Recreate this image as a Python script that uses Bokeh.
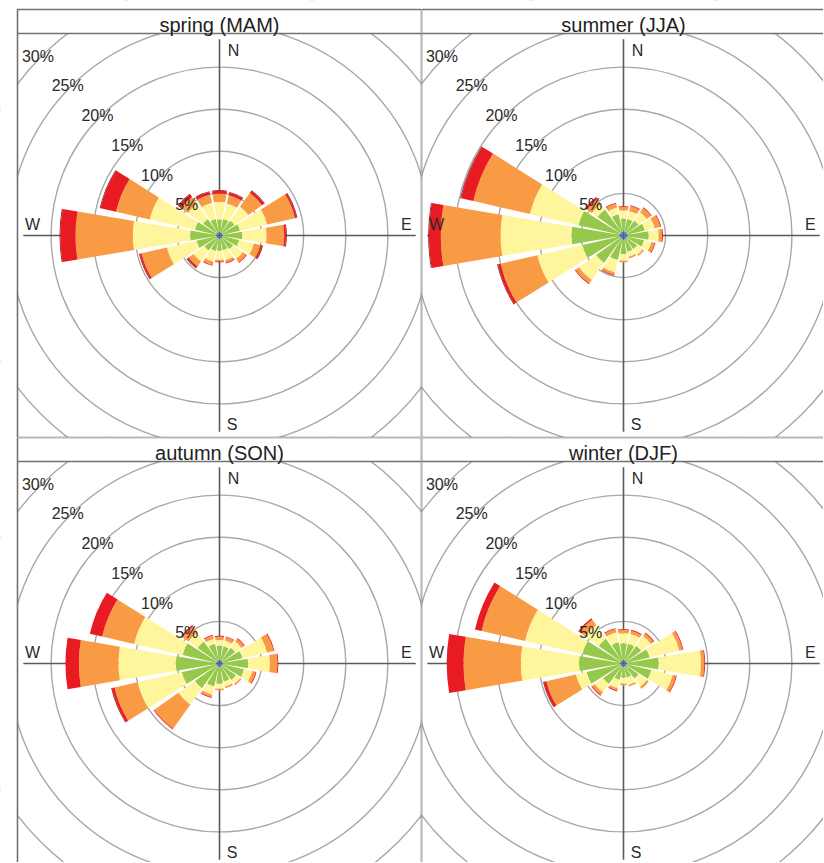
import numpy as np
from bokeh.plotting import figure
from bokeh.layouts import gridplot
from bokeh.models import Range1d, ColumnDataSource
from bokeh.embed import file_html
from bokeh.resources import INLINE
from bokeh.core.properties import value

# ---------------- data ----------------
directions = ["N", "NNE", "NE", "ENE", "E", "ESE", "SE", "SSE",
              "S", "SSW", "SW", "WSW", "W", "WNW", "NW", "NNW"]
dir_deg = [0, 22.5, 45, 67.5, 90, 112.5, 135, 157.5,
           180, 202.5, 225, 247.5, 270, 292.5, 315, 337.5]
speed_bins = ["bin 1", "bin 2", "bin 3", "bin 4", "bin 5", "bin 6"]
bin_colours = ["#3d6fb2", "#96c94b", "#fff59c", "#f99b45", "#e81b22", "#9e1a1a"]
season_titles = ["spring (MAM)", "summer (JJA)", "autumn (SON)", "winter (DJF)"]
ring_values = [5, 10, 15, 20, 25, 30]
ring_labels = ["5%", "10%", "15%", "20%", "25%", "30%"]
compass_labels = ["N", "E", "S", "W"]

# frequencies (%) per speed bin, 16 directions each
spring_b1 = [0.4] * 16
spring_b2 = [1.5, 1.6, 1.8, 2.1, 2.3, 2.0, 1.6, 1.4, 1.4, 1.5, 1.8, 2.4, 3.1, 2.6, 2.0, 1.6]
spring_b3 = [2.1, 1.9, 2.0, 3.3, 2.9, 1.8, 1.4, 1.2, 1.1, 1.3, 1.6, 3.6, 6.8, 5.5, 2.2, 2.0]
spring_b4 = [1.0, 1.0, 2.0, 3.4, 2.1, 0.8, 0.5, 0.3, 0.2, 0.4, 0.7, 3.1, 6.8, 4.1, 1.0, 1.0]
spring_b5 = [0.3, 0.3, 0.3, 0.2, 0.2, 0.2, 0.1, 0.1, 0.1, 0.1, 0.2, 0.2, 1.8, 1.9, 0.4, 0.3]
spring_b6 = [0.1, 0.1, 0.1, 0.1, 0.1, 0.1, 0.0, 0.0, 0.0, 0.0, 0.1, 0.1, 0.1, 0.1, 0.1, 0.1]

summer_b1 = [0.5] * 16
summer_b2 = [1.5, 1.5, 1.7, 2.1, 2.5, 2.0, 1.5, 1.5, 1.7, 2.5, 3.5, 4.5, 5.7, 5.0, 3.3, 2.1]
summer_b3 = [1.0, 1.0, 1.2, 1.2, 1.2, 0.9, 0.8, 0.6, 0.8, 1.5, 2.5, 5.5, 8.4, 5.9, 0.8, 0.8]
summer_b4 = [0.4, 0.6, 0.6, 0.7, 0.4, 0.4, 0.2, 0.2, 0.2, 0.3, 0.5, 4.5, 7.1, 6.9, 0.7, 0.5]
summer_b5 = [0.1, 0.1, 0.1, 0.1, 0.1, 0.1, 0.0, 0.0, 0.0, 0.1, 0.1, 0.3, 1.4, 1.5, 0.2, 0.1]
summer_b6 = [0.0, 0.0, 0.0, 0.0, 0.0, 0.0, 0.0, 0.0, 0.0, 0.0, 0.0, 0.1, 0.1, 0.1, 0.1, 0.0]

autumn_b1 = [0.4] * 16
autumn_b2 = [1.7, 1.7, 1.9, 2.4, 3.0, 2.6, 2.0, 1.8, 2.0, 2.4, 3.2, 4.2, 4.8, 4.1, 2.8, 2.0]
autumn_b3 = [0.7, 0.7, 0.9, 3.0, 2.6, 1.0, 0.6, 0.6, 0.6, 1.0, 2.4, 5.4, 6.8, 5.9, 1.3, 0.6]
autumn_b4 = [0.4, 0.4, 0.4, 0.8, 0.9, 0.4, 0.2, 0.2, 0.2, 0.3, 3.5, 2.8, 4.7, 3.9, 0.9, 0.4]
autumn_b5 = [0.1, 0.1, 0.1, 0.1, 0.1, 0.1, 0.0, 0.0, 0.0, 0.1, 0.1, 0.3, 1.6, 1.5, 0.2, 0.1]
autumn_b6 = [0.0, 0.0, 0.0, 0.0, 0.0, 0.0, 0.0, 0.0, 0.0, 0.0, 0.0, 0.1, 0.0, 0.0, 0.0, 0.0]

winter_b1 = [0.4] * 16
winter_b2 = [2.0, 2.0, 2.2, 2.8, 3.8, 3.0, 1.8, 1.3, 1.3, 1.6, 2.6, 4.1, 4.9, 4.6, 3.2, 2.2]
winter_b3 = [1.2, 1.2, 1.4, 3.6, 5.0, 2.6, 1.2, 0.9, 0.7, 1.0, 1.2, 1.3, 6.9, 7.0, 2.0, 1.2]
winter_b4 = [0.4, 0.4, 0.4, 0.4, 0.4, 0.4, 0.3, 0.2, 0.2, 0.3, 0.4, 3.6, 6.8, 5.3, 0.8, 0.4]
winter_b5 = [0.1, 0.1, 0.1, 0.1, 0.1, 0.1, 0.0, 0.0, 0.0, 0.1, 0.1, 0.3, 2.0, 0.8, 0.2, 0.1]
winter_b6 = [0.0, 0.0, 0.0, 0.0, 0.0, 0.0, 0.0, 0.0, 0.0, 0.0, 0.0, 0.1, 0.0, 0.0, 0.0, 0.0]

seasons = [
    [spring_b1, spring_b2, spring_b3, spring_b4, spring_b5, spring_b6],
    [summer_b1, summer_b2, summer_b3, summer_b4, summer_b5, summer_b6],
    [autumn_b1, autumn_b2, autumn_b3, autumn_b4, autumn_b5, autumn_b6],
    [winter_b1, winter_b2, winter_b3, winter_b4, winter_b5, winter_b6],
]

# ---------------- layout ----------------
S = 8.42            # pixels per 1 %
H = 202 / S         # half panel size (data units)
STRIP = 24 / S      # strip height
HALF_W = 9.6        # half wedge width in degrees
FONT = value("Liberation Sans")
GRID_COL = "#a8a8a8"
BORDER_COL = "#727272"

# (fig width, fig height, centre x px from left, centre y px from top, left margin px)
specs = [
    (421, 437, 219, 235, 17),
    (402, 437, 202, 235, 0),
    (421, 425, 219, 226, 17),
    (402, 425, 202, 226, 0),
]


def make_panel(title, bins, spec):
    w, h, cx, cy, lm = spec
    x0, x1 = -cx / S, (w - cx) / S
    y0, y1 = -(h - cy) / S, cy / S
    p = figure(width=w, height=h, x_range=Range1d(x0, x1), y_range=Range1d(y0, y1),
               output_backend="svg", toolbar_location=None, min_border=0,
               x_axis_type=None, y_axis_type=None)
    p.grid.visible = False
    p.outline_line_color = None
    p.background_fill_color = "white"
    p.border_fill_color = "white"

    # grid rings
    p.circle(x=[0] * len(ring_values), y=[0] * len(ring_values), radius=ring_values,
             fill_color=None, line_color=GRID_COL, line_width=1.4)
    # axis cross
    ext = 23.3
    p.segment(x0=[-ext, 0], y0=[0, -ext], x1=[ext, 0], y1=[0, ext],
              line_color="#5a5a5a", line_width=1.6)

    # wedges
    ang = np.radians(90 - np.array(dir_deg))
    hw = np.radians(HALF_W)
    cum = np.zeros(len(dir_deg))
    for k, vals in enumerate(bins):
        inner = cum.copy()
        cum = cum + np.array(vals)
        src = ColumnDataSource(dict(x=np.zeros(len(dir_deg)), y=np.zeros(len(dir_deg)),
                                    inner=inner, outer=cum.copy(),
                                    start=ang - hw, end=ang + hw))
        p.annular_wedge(x="x", y="y", inner_radius="inner", outer_radius="outer",
                        start_angle="start", end_angle="end", source=src,
                        fill_color=bin_colours[k], line_color=None)

    # compass labels
    p.text(x=[1.66, 22.2, 1.5, -22.2], y=[22.0, 1.3, -22.4, 1.3], text=compass_labels,
           text_align="center", text_baseline="middle", text_font=FONT,
           text_font_size="16px", text_color="#2a2a2a")
    # ring labels along NW diagonal
    c45 = np.cos(np.radians(45))
    rv = np.array(ring_values, dtype=float)
    p.text(x=-rv * c45 - 0.35, y=rv * c45 + 0.1, text=ring_labels,
           text_align="center", text_baseline="middle", text_font=FONT,
           text_font_size="16px", text_color="#2a2a2a")

    # white covers: strip area and left margin
    p.quad(left=[x0], right=[x1], bottom=[H], top=[y1 + 1], fill_color="white", line_color=None)
    if lm > 0:
        p.quad(left=[x0 - 1], right=[-H], bottom=[y0 - 1], top=[y1 + 1],
               fill_color="white", line_color=None)

    # panel + strip borders
    p.quad(left=[-H], right=[H], bottom=[-H], top=[H + STRIP],
           fill_color=None, line_color=BORDER_COL, line_width=1.6)
    p.segment(x0=[-H], y0=[H], x1=[H], y1=[H], line_color=BORDER_COL, line_width=1.6)

    # strip title
    p.text(x=[0], y=[H + 9.0 / S], text=[title], text_align="center",
           text_baseline="middle", text_font=FONT, text_font_size="20px",
           text_color="#222222")
    return p


figs = [make_panel(t, b, s) for t, b, s in zip(season_titles, seasons, specs)]
grid = gridplot([[figs[0], figs[1]], [figs[2], figs[3]]], toolbar_location=None)

open("out.html", "w").write(file_html(grid, INLINE))
